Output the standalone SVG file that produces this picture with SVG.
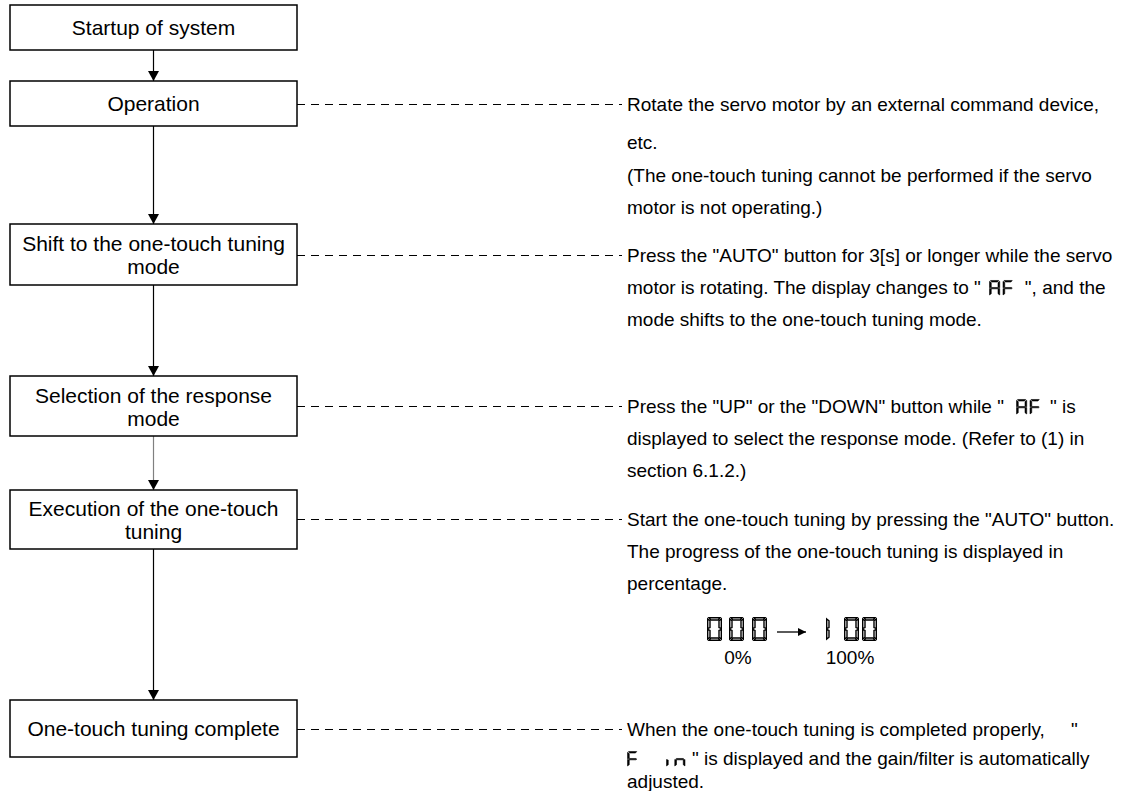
<svg xmlns="http://www.w3.org/2000/svg" width="1140" height="791" viewBox="0 0 1140 791">
<style>
.box{fill:#fff;stroke:#000;stroke-width:1.5}
.bt{font-family:"Liberation Sans",Arial,sans-serif;font-size:21px;fill:#000;text-anchor:middle}
.rt{font-family:"Liberation Sans",Arial,sans-serif;font-size:19px;fill:#000}
.ct{font-family:"Liberation Sans",Arial,sans-serif;font-size:19px;fill:#000;text-anchor:middle}
.arr{stroke:#000;stroke-width:1.2;fill:none;marker-end:url(#ah)}
.arrg{stroke:#808080;stroke-width:1.2;fill:none;marker-end:url(#ah)}
.dash{stroke:#000;stroke-width:1;stroke-dasharray:8 6;fill:none}
.seg{fill:#000}
.oseg{fill:#fff;stroke:#000;stroke-width:1.4}
</style>
<defs>
<marker id="ah" viewBox="0 0 10 11" refX="10" refY="5.5" markerWidth="11" markerHeight="11" markerUnits="userSpaceOnUse" orient="auto">
<path d="M0,0 L10,5.5 L0,11 z" fill="#000"/>
</marker>
<marker id="ah2" viewBox="0 0 10 10" refX="10" refY="5" markerWidth="10" markerHeight="8" markerUnits="userSpaceOnUse" orient="auto">
<path d="M0,0 L10,5 L0,10 z" fill="#000"/>
</marker>
<g id="sa"><polygon points="2,0.7 13,0.7 11.3,3 3.7,3"/></g>
<g id="sd"><polygon points="3.7,21 11.3,21 13,23.3 2,23.3"/></g>
<g id="sf"><polygon points="0.7,2 3,3.8 3,10.6 0.7,11.5"/></g>
<g id="se"><polygon points="0.7,12.5 3,13.4 3,20.2 0.7,22"/></g>
<g id="sb"><polygon points="14.3,2 14.3,11.5 12,10.6 12,3.8"/></g>
<g id="sc"><polygon points="14.3,12.5 14.3,22 12,20.2 12,13.4"/></g>
<g id="sg"><polygon points="3,11 12,11 13,12 12,13 3,13 2,12"/></g>
<g id="d0" class="oseg"><use href="#sa"/><use href="#sb"/><use href="#sc"/><use href="#sd"/><use href="#se"/><use href="#sf"/></g>
<g id="d1" class="oseg"><use href="#se"/><use href="#sf"/></g>
<g id="cA" class="seg" stroke="#000" stroke-width="0.8"><use href="#sa"/><use href="#sb"/><use href="#sc"/><use href="#se"/><use href="#sf"/><use href="#sg"/></g>
<g id="cF" class="seg" stroke="#000" stroke-width="0.8"><use href="#sa"/><use href="#se"/><use href="#sf"/><use href="#sg"/></g>
<g id="ci" class="seg" stroke="#000" stroke-width="0.8"><use href="#se"/></g>
<g id="cn" class="seg" stroke="#000" stroke-width="0.8"><use href="#se"/><use href="#sc"/><use href="#sg"/></g>
</defs>

<g id="connectors">
<line class="arr" x1="153.5" y1="50" x2="153.5" y2="81"/>
<line class="arr" x1="153.5" y1="126" x2="153.5" y2="224"/>
<line class="arr" x1="153.5" y1="285" x2="153.5" y2="376"/>
<line class="arrg" x1="153.5" y1="436" x2="153.5" y2="490"/>
<line class="arr" x1="153.5" y1="549" x2="153.5" y2="700"/>
<line class="dash" x1="297" y1="104.5" x2="622" y2="104.5"/>
<line class="dash" x1="297" y1="255.5" x2="622" y2="255.5"/>
<line class="dash" x1="297" y1="406.5" x2="622" y2="406.5"/>
<line class="dash" x1="297" y1="519.5" x2="622" y2="519.5"/>
<line class="dash" x1="297" y1="729.5" x2="622" y2="729.5"/>
</g>

<g id="n1"><rect class="box" x="10" y="5" width="287" height="45"/><text class="bt" x="153.5" y="35">Startup of system</text></g>
<g id="n2"><rect class="box" x="10" y="81" width="287" height="45"/><text class="bt" x="153.5" y="111">Operation</text></g>
<g id="n3"><rect class="box" x="10" y="224" width="287" height="61"/><text class="bt" x="153.5" y="251">Shift to the one-touch tuning</text><text class="bt" x="153.5" y="274">mode</text></g>
<g id="n4"><rect class="box" x="10" y="376" width="287" height="60"/><text class="bt" x="153.5" y="402.5">Selection of the response</text><text class="bt" x="153.5" y="425.5">mode</text></g>
<g id="n5"><rect class="box" x="10" y="490" width="287" height="59"/><text class="bt" x="153.5" y="516">Execution of the one-touch</text><text class="bt" x="153.5" y="539">tuning</text></g>
<g id="n6"><rect class="box" x="10" y="700" width="287" height="57"/><text class="bt" x="153.5" y="736">One-touch tuning complete</text></g>

<g id="notes">
<text class="rt" x="627" y="111">Rotate the servo motor by an external command device,</text>
<text class="rt" x="627" y="149">etc.</text>
<text class="rt" x="627" y="182">(The one-touch tuning cannot be performed if the servo</text>
<text class="rt" x="627" y="214">motor is not operating.)</text>

<text class="rt" x="627" y="262">Press the "AUTO" button for 3[s] or longer while the servo</text>
<text class="rt" x="627" y="294">motor is rotating. The display changes to "<tspan dx="44">", and the</tspan></text>
<text class="rt" x="627" y="326">mode shifts to the one-touch tuning mode.</text>

<text class="rt" x="627" y="413">Press the "UP" or the "DOWN" button while "<tspan dx="46">" is</tspan></text>
<text class="rt" x="627" y="445">displayed to select the response mode. (Refer to (1) in</text>
<text class="rt" x="627" y="477">section 6.1.2.)</text>

<text class="rt" x="627" y="526">Start the one-touch tuning by pressing the "AUTO" button.</text>
<text class="rt" x="627" y="558">The progress of the one-touch tuning is displayed in</text>
<text class="rt" x="627" y="590">percentage.</text>

<text class="ct" x="738" y="664">0%</text>
<text class="ct" x="850" y="664">100%</text>

<text class="rt" x="627" y="736">When the one-touch tuning is completed properly,</text>
<text class="rt" x="1071" y="736">"</text>
<text class="rt" x="692" y="765">" is displayed and the gain/filter is automatically</text>
<text class="rt" x="627" y="788">adjusted.</text>
</g>

<g id="led-af-1" transform="translate(989,280) scale(0.75,0.68)"><use href="#cA"/><use href="#cF" x="18"/></g>
<g id="led-af-2" transform="translate(1016,399) scale(0.75,0.68)"><use href="#cA"/><use href="#cF" x="18"/></g>
<g id="led-fin" transform="translate(627,751) scale(0.75,0.68)"><use href="#cF"/><use href="#ci" x="52"/><use href="#cn" x="63"/></g>
<g id="led-000" transform="translate(707,617)"><use href="#d0"/><use href="#d0" x="22"/><use href="#d0" x="45"/></g>
<line x1="777" y1="632" x2="806" y2="632" stroke="#000" stroke-width="1.3" marker-end="url(#ah2)"/>
<g id="led-100" transform="translate(826,617)"><use href="#d1"/><use href="#d0" x="18"/><use href="#d0" x="36"/></g>
</svg>
